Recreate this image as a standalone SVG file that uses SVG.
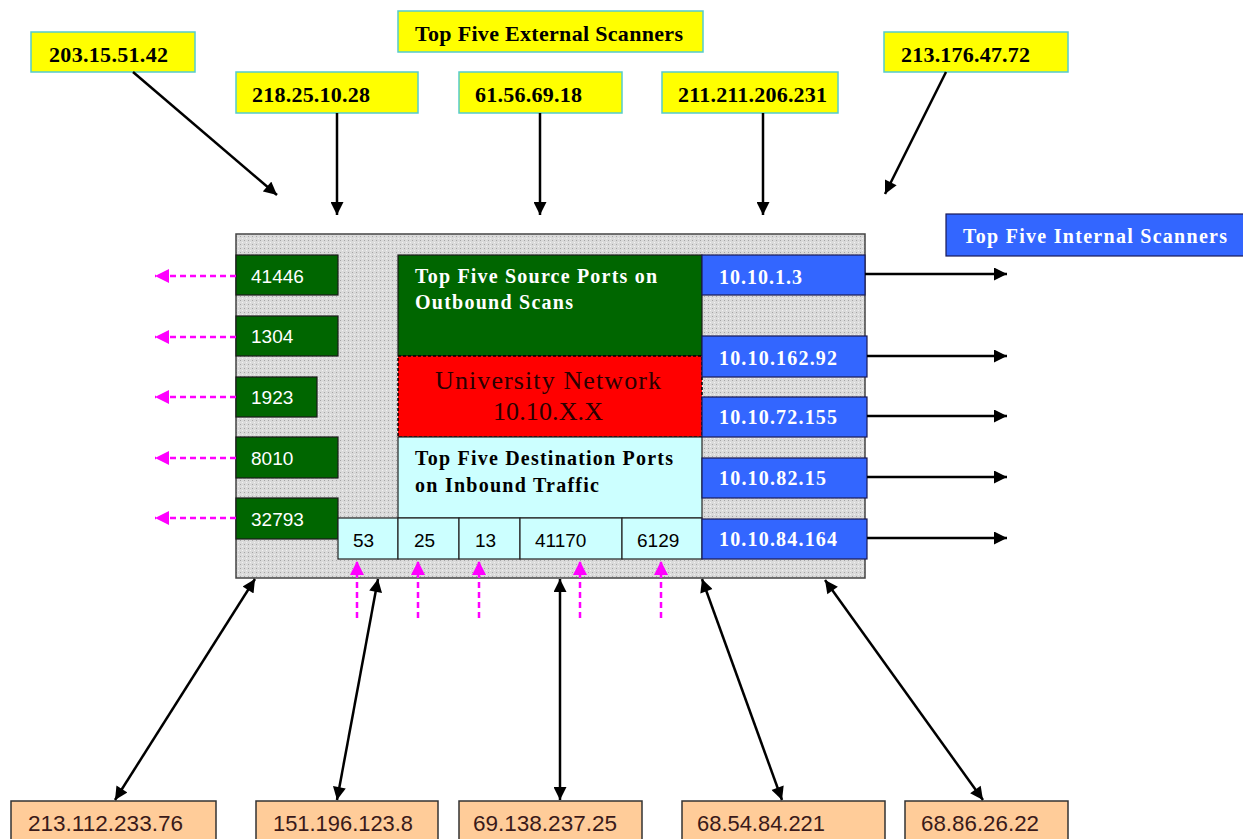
<svg xmlns="http://www.w3.org/2000/svg" width="1243" height="839" viewBox="0 0 1243 839">
<style>
.yel{fill:#FFFF00;stroke:#55CCCC;stroke-width:1.5}
.ylab{font-family:"Liberation Serif",serif;font-weight:bold;font-size:22px;fill:#000}
.gbox{fill:#006600;stroke:#1a1a1a;stroke-width:1.2}
.bbox{fill:#3366FF;stroke:#1a1a55;stroke-width:1.2}
.cbox{fill:#CCFFFF;stroke:#222;stroke-width:1.2}
.pbox{fill:#FFCC99;stroke:#333;stroke-width:1.5}
.num{font-family:"Liberation Sans",sans-serif;font-size:19px}
.wnum{font-family:"Liberation Sans",sans-serif;font-size:19px;fill:#fff}
.bser{font-family:"Liberation Serif",serif;font-weight:bold;font-size:20px}
.bip{font-family:"Liberation Sans",sans-serif;font-size:22px;fill:#3a1a1a}
.blk{stroke:#000;stroke-width:2.5;fill:none}
.mag{stroke:#FF00FF;stroke-width:2.5;stroke-dasharray:6 4;fill:none}
</style>
<defs>
<pattern id="dots" width="4" height="4" patternUnits="userSpaceOnUse">
<rect width="4" height="4" fill="#DADADA"/>
<rect x="0" y="0" width="1" height="1" fill="#A5A5A5"/>
<rect x="2" y="2" width="1" height="1" fill="#F2F2F2"/>
</pattern>
<marker id="ah" viewBox="0 0 10 10" refX="10" refY="5" markerWidth="14" markerHeight="13" markerUnits="userSpaceOnUse" orient="auto-start-reverse">
<path d="M0,0 L10,5 L0,10 z" fill="#000"/>
</marker>
<marker id="mh" viewBox="0 0 10 10" refX="10" refY="5" markerWidth="14" markerHeight="14" markerUnits="userSpaceOnUse" orient="auto">
<path d="M0,0 L10,5 L0,10 z" fill="#FF00FF"/>
</marker>
</defs>
<rect width="1243" height="839" fill="#fff"/>

<g id="network">
<rect x="236" y="234" width="629" height="344" fill="url(#dots)" stroke="#444" stroke-width="1.5"/>
</g>

<g id="src-ports-title">
<rect x="398" y="255" width="304" height="101" class="gbox"/>
<text x="415" y="283" class="bser" fill="#fff" textLength="242" lengthAdjust="spacing">Top Five Source Ports on</text>
<text x="415" y="309" class="bser" fill="#fff" textLength="158" lengthAdjust="spacing">Outbound Scans</text>
</g>
<g id="univ">
<rect x="398" y="356" width="304" height="81" fill="#FF0000" stroke="#000" stroke-width="1.5" stroke-dasharray="3 2"/>
<text x="548" y="389" text-anchor="middle" font-family="Liberation Serif,serif" font-size="26" fill="#2a0000" textLength="226" lengthAdjust="spacing">University Network</text>
<text x="548" y="420" text-anchor="middle" font-family="Liberation Serif,serif" font-size="26" fill="#2a0000" textLength="110" lengthAdjust="spacing">10.10.X.X</text>
</g>
<g id="dst-ports-title">
<rect x="398" y="437" width="304" height="81" class="cbox"/>
<text x="415" y="465" class="bser" fill="#000" textLength="258" lengthAdjust="spacing">Top Five Destination Ports</text>
<text x="415" y="492" class="bser" fill="#000" textLength="184" lengthAdjust="spacing">on Inbound Traffic</text>
</g>

<g id="sport-41446"><rect x="236" y="255" width="102" height="40" class="gbox"/><text x="251" y="283" class="wnum">41446</text></g>
<g id="sport-1304"><rect x="236" y="316" width="102" height="40" class="gbox"/><text x="251" y="343" class="wnum">1304</text></g>
<g id="sport-1923"><rect x="236" y="377" width="81" height="40" class="gbox"/><text x="251" y="404" class="wnum">1923</text></g>
<g id="sport-8010"><rect x="236" y="437" width="102" height="41" class="gbox"/><text x="251" y="465" class="wnum">8010</text></g>
<g id="sport-32793"><rect x="236" y="498" width="102" height="41" class="gbox"/><text x="251" y="526" class="wnum">32793</text></g>

<g id="dport-53"><rect x="338" y="518" width="60" height="41" class="cbox"/><text x="353" y="547" class="num">53</text></g>
<g id="dport-25"><rect x="398" y="518" width="61" height="41" class="cbox"/><text x="414" y="547" class="num">25</text></g>
<g id="dport-13"><rect x="459" y="518" width="61" height="41" class="cbox"/><text x="475" y="547" class="num">13</text></g>
<g id="dport-41170"><rect x="520" y="518" width="102" height="41" class="cbox"/><text x="535" y="547" class="num">41170</text></g>
<g id="dport-6129"><rect x="622" y="518" width="80" height="41" class="cbox"/><text x="637" y="547" class="num">6129</text></g>

<g id="int-1"><rect x="702" y="255" width="163" height="40" class="bbox"/><text x="719" y="284" class="bser" fill="#fff" textLength="83" lengthAdjust="spacing">10.10.1.3</text></g>
<g id="int-2"><rect x="702" y="336" width="165" height="41" class="bbox"/><text x="719" y="365" class="bser" fill="#fff" textLength="118" lengthAdjust="spacing">10.10.162.92</text></g>
<g id="int-3"><rect x="702" y="397" width="165" height="40" class="bbox"/><text x="719" y="424" class="bser" fill="#fff" textLength="118" lengthAdjust="spacing">10.10.72.155</text></g>
<g id="int-4"><rect x="702" y="458" width="165" height="40" class="bbox"/><text x="719" y="485" class="bser" fill="#fff" textLength="107" lengthAdjust="spacing">10.10.82.15</text></g>
<g id="int-5"><rect x="702" y="519" width="165" height="40" class="bbox"/><text x="719" y="546" class="bser" fill="#fff" textLength="118" lengthAdjust="spacing">10.10.84.164</text></g>

<g id="int-title"><rect x="946" y="214" width="300" height="42" class="bbox"/><text x="963" y="243" class="bser" fill="#fff" textLength="264" lengthAdjust="spacing">Top Five Internal Scanners</text></g>

<g id="ext-title"><rect x="398" y="11" width="305" height="41" class="yel"/><text x="415" y="41" class="ylab" textLength="268" lengthAdjust="spacing">Top Five External Scanners</text></g>
<g id="ext-1"><rect x="31" y="32" width="164" height="40" class="yel"/><text x="49" y="62" class="ylab" textLength="119" lengthAdjust="spacing">203.15.51.42</text></g>
<g id="ext-2"><rect x="236" y="72" width="182" height="41" class="yel"/><text x="252" y="102" class="ylab" textLength="118" lengthAdjust="spacing">218.25.10.28</text></g>
<g id="ext-3"><rect x="459" y="72" width="163" height="41" class="yel"/><text x="475" y="102" class="ylab" textLength="107" lengthAdjust="spacing">61.56.69.18</text></g>
<g id="ext-4"><rect x="662" y="72" width="176" height="41" class="yel"/><text x="678" y="102" class="ylab" textLength="149" lengthAdjust="spacing">211.211.206.231</text></g>
<g id="ext-5"><rect x="884" y="32" width="184" height="40" class="yel"/><text x="901" y="62" class="ylab" textLength="129" lengthAdjust="spacing">213.176.47.72</text></g>

<g id="bot-1"><rect x="11" y="801" width="205" height="42" class="pbox"/><text x="28" y="831" class="bip" textLength="155" lengthAdjust="spacingAndGlyphs">213.112.233.76</text></g>
<g id="bot-2"><rect x="256" y="801" width="182" height="42" class="pbox"/><text x="273" y="831" class="bip" textLength="140" lengthAdjust="spacingAndGlyphs">151.196.123.8</text></g>
<g id="bot-3"><rect x="459" y="801" width="183" height="42" class="pbox"/><text x="473" y="831" class="bip" textLength="144" lengthAdjust="spacingAndGlyphs">69.138.237.25</text></g>
<g id="bot-4"><rect x="682" y="801" width="203" height="42" class="pbox"/><text x="697" y="831" class="bip" textLength="128" lengthAdjust="spacingAndGlyphs">68.54.84.221</text></g>
<g id="bot-5"><rect x="905" y="801" width="163" height="42" class="pbox"/><text x="921" y="831" class="bip" textLength="118" lengthAdjust="spacingAndGlyphs">68.86.26.22</text></g>

<g id="connectors">
<line x1="133" y1="72" x2="277" y2="195" class="blk" marker-end="url(#ah)"/>
<line x1="337" y1="113" x2="337" y2="215" class="blk" marker-end="url(#ah)"/>
<line x1="540" y1="113" x2="540" y2="215" class="blk" marker-end="url(#ah)"/>
<line x1="763" y1="113" x2="763" y2="215" class="blk" marker-end="url(#ah)"/>
<line x1="946" y1="72" x2="885" y2="194" class="blk" marker-end="url(#ah)"/>

<line x1="865" y1="274" x2="1007" y2="274" class="blk" marker-end="url(#ah)"/>
<line x1="867" y1="356" x2="1007" y2="356" class="blk" marker-end="url(#ah)"/>
<line x1="867" y1="416" x2="1007" y2="416" class="blk" marker-end="url(#ah)"/>
<line x1="867" y1="477" x2="1007" y2="477" class="blk" marker-end="url(#ah)"/>
<line x1="867" y1="538" x2="1007" y2="538" class="blk" marker-end="url(#ah)"/>

<line x1="236" y1="276" x2="155" y2="276" class="mag" marker-end="url(#mh)"/>
<line x1="236" y1="337" x2="155" y2="337" class="mag" marker-end="url(#mh)"/>
<line x1="236" y1="397" x2="155" y2="397" class="mag" marker-end="url(#mh)"/>
<line x1="236" y1="458" x2="155" y2="458" class="mag" marker-end="url(#mh)"/>
<line x1="236" y1="518" x2="155" y2="518" class="mag" marker-end="url(#mh)"/>

<line x1="357" y1="618" x2="357" y2="561" class="mag" marker-end="url(#mh)"/>
<line x1="418" y1="618" x2="418" y2="561" class="mag" marker-end="url(#mh)"/>
<line x1="479" y1="618" x2="479" y2="561" class="mag" marker-end="url(#mh)"/>
<line x1="580" y1="618" x2="580" y2="561" class="mag" marker-end="url(#mh)"/>
<line x1="661" y1="618" x2="661" y2="561" class="mag" marker-end="url(#mh)"/>

<line x1="115" y1="800" x2="255" y2="579" class="blk" marker-start="url(#ah)" marker-end="url(#ah)"/>
<line x1="337" y1="800" x2="378" y2="579" class="blk" marker-start="url(#ah)" marker-end="url(#ah)"/>
<line x1="560" y1="800" x2="560" y2="579" class="blk" marker-start="url(#ah)" marker-end="url(#ah)"/>
<line x1="782" y1="800" x2="702" y2="579" class="blk" marker-start="url(#ah)" marker-end="url(#ah)"/>
<line x1="983" y1="800" x2="825" y2="580" class="blk" marker-start="url(#ah)" marker-end="url(#ah)"/>
</g>
</svg>
